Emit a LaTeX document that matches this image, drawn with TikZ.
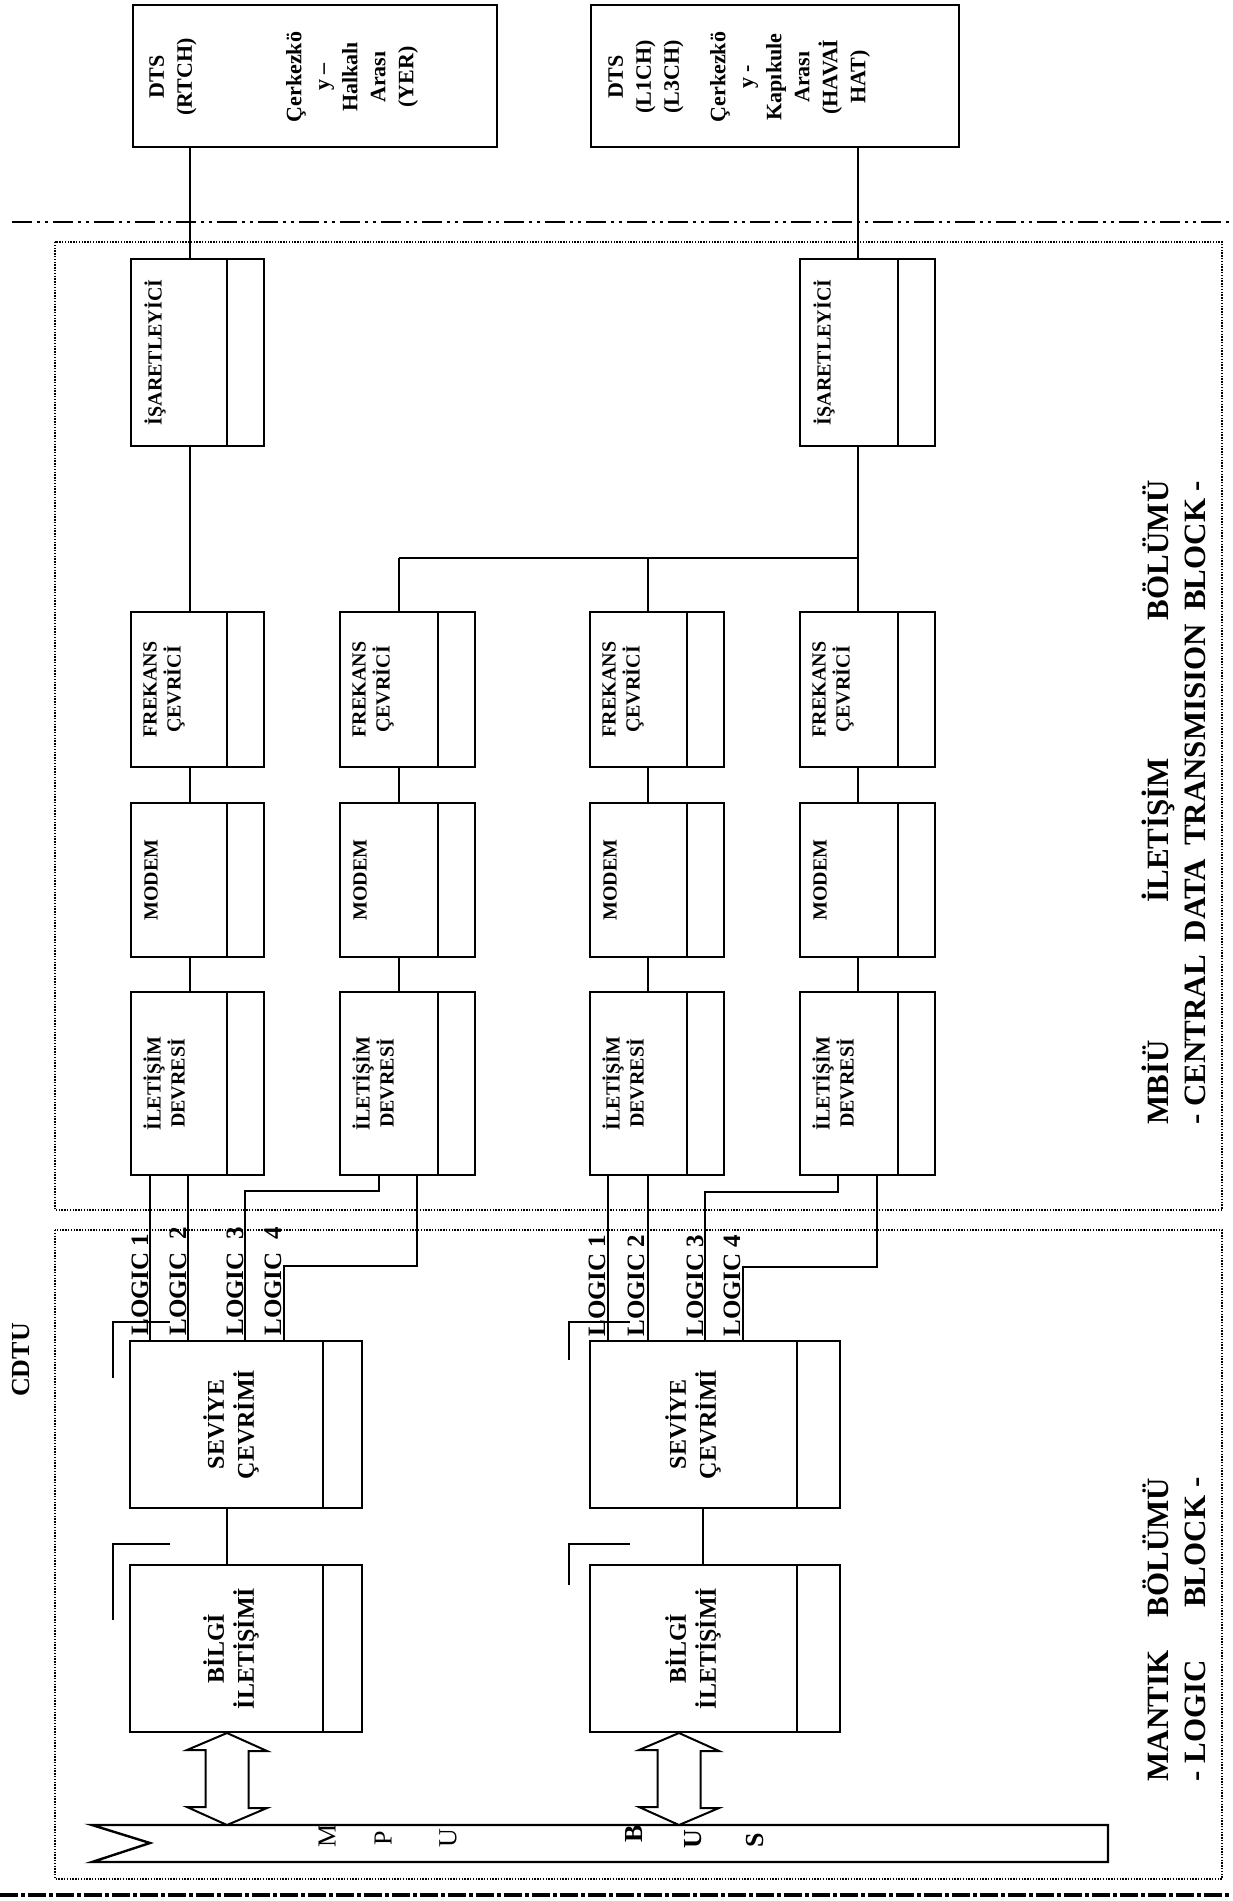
\documentclass[tikz,border=0pt]{standalone}
\usepackage{fontspec}
\setmainfont{Liberation Serif}
\usetikzlibrary{fit,calc}
\tikzset{
  blk/.style={draw, line width=1pt, inner sep=0pt},
  dtsbox/.style={draw, line width=1.3pt, inner sep=0pt},
  conn/.style={line width=0.9pt},
  frm/.style={line width=0.7pt, dash pattern=on 0.7pt off 0.7pt},
  dashdotline/.style={line width=0.9pt, dash pattern=on 10pt off 2.5pt on 1.5pt off 2.5pt on 1.5pt off 2.5pt},
  heavydash/.style={line width=2pt, dash pattern=on 9pt off 1.5pt on 2pt off 1.5pt},
  btext/.style={rotate=90, anchor=north, inner sep=0pt, align=center, font=\bfseries\fontsize{10}{12}\selectfont},
  ltext/.style={rotate=90, inner sep=0pt, align=center, font=\bfseries\fontsize{12}{15}\selectfont},
  dtext/.style={rotate=90, inner sep=0pt, align=center, font=\bfseries\fontsize{11}{14}\selectfont},
  lglab/.style={rotate=90, anchor=base west, inner sep=0pt, font=\bfseries\fontsize{12.5}{15}\selectfont},
  biglab/.style={rotate=90, anchor=base west, inner sep=0pt, font=\bfseries\fontsize{15.5}{19}\selectfont},
  buslet/.style={rotate=90, inner sep=0pt, font=\fontsize{13}{15}\selectfont},
  busletb/.style={rotate=90, inner sep=0pt, font=\bfseries\fontsize{13}{15}\selectfont},
  cornermark/.style={line width=1pt},
  dblarrow/.style={line width=1pt, fill=white, line join=miter},
}
\newcommand\mkblock[6]{%
  \coordinate (#1-a) at (#2,#3);
  \coordinate (#1-b) at (#4,#5);
  \node[blk, fit=(#1-a)(#1-b)] (#1) {};
  \draw[line width=1pt] ([xshift=-#6]#1.north east) -- ([xshift=-#6]#1.south east);
}
\begin{document}
\begin{tikzpicture}[x=0.5pt, y=-0.5pt]
\useasboundingbox (0,0) rectangle (1232,1901);

% ---------- DTS boxes ----------
\coordinate (dA-a) at (133,5); \coordinate (dA-b) at (497,147);
\node[dtsbox, fit=(dA-a)(dA-b)] (dtsA) {};
\coordinate (dB-a) at (591,5); \coordinate (dB-b) at (959,147);
\node[dtsbox, fit=(dB-a)(dB-b)] (dtsB) {};
\node[dtext] (dtsA-t1) at (173,77) {DTS\\(RTCH)};
\node[dtext] (dtsA-t2) at (352,77) {Çerkezkö\\y –\\Halkalı\\Arası\\(YER)};
\node[dtext] (dtsB-t1) at (646,77) {DTS\\(L1CH)\\(L3CH)};
\node[dtext] (dtsB-t2) at (790,77) {Çerkezkö\\y -\\Kapıkule\\Arası\\(HAVAİ\\HAT)};

% ---------- separators and frames ----------
\draw[dashdotline] (12,222) -- (1232,222);
\draw[frm] (55,242) rectangle (1222,1210);
\draw[frm] (55,1230) rectangle (1222,1879);
\draw[heavydash] (0,1895) -- (1232,1895);

% ---------- transmission blocks ----------
\mkblock{isa1}{131}{259}{264}{446}{19pt}
\mkblock{isa4}{800}{259}{935}{446}{19pt}
\mkblock{fr1}{131}{612}{264}{767}{19pt}
\mkblock{fr2}{340}{612}{475}{767}{19pt}
\mkblock{fr3}{590}{612}{724}{767}{19pt}
\mkblock{fr4}{800}{612}{935}{767}{19pt}
\mkblock{mo1}{131}{803}{264}{957}{19pt}
\mkblock{mo2}{340}{803}{475}{957}{19pt}
\mkblock{mo3}{590}{803}{724}{957}{19pt}
\mkblock{mo4}{800}{803}{935}{957}{19pt}
\mkblock{il1}{131}{992}{264}{1175}{19pt}
\mkblock{il2}{340}{992}{475}{1175}{19pt}
\mkblock{il3}{590}{992}{724}{1175}{19pt}
\mkblock{il4}{800}{992}{935}{1175}{19pt}

\node[btext] (isa1-t) at ([xshift=7pt]isa1.west) {İŞARETLEYİCİ};
\node[btext] (isa4-t) at ([xshift=7pt]isa4.west) {İŞARETLEYİCİ};
\foreach \i in {1,2,3,4}{
  \node[btext] (fr\i-t) at ([xshift=6.5pt]fr\i.west) {FREKANS\\ÇEVRİCİ};
  \node[btext] (mo\i-t) at ([xshift=7pt]mo\i.west) {MODEM};
  \node[btext] (il\i-t) at ([xshift=6.5pt]il\i.west) {İLETİŞİM\\DEVRESİ};
}

% ---------- logic blocks ----------
\mkblock{sev1}{130}{1341}{362}{1508}{20pt}
\mkblock{bil1}{130}{1565}{362}{1732}{20pt}
\mkblock{sev2}{590}{1341}{840}{1508}{22pt}
\mkblock{bil2}{590}{1565}{840}{1732}{22pt}
\node[ltext] (sev1-t) at ([xshift=51pt]sev1.center -| sev1.west) {SEVİYE\\ÇEVRİMİ};
\node[ltext] (bil1-t) at ([xshift=51pt]bil1.center -| bil1.west) {BİLGİ\\İLETİŞİMİ};
\node[ltext] (sev2-t) at ([xshift=52pt]sev2.center -| sev2.west) {SEVİYE\\ÇEVRİMİ};
\node[ltext] (bil2-t) at ([xshift=52pt]bil2.center -| bil2.west) {BİLGİ\\İLETİŞİMİ};

% corner marks
\draw[cornermark] (113,1378) -- (113,1322) -- (170,1322);
\draw[cornermark] (113,1620) -- (113,1544) -- (170,1544);
\draw[cornermark] (569,1360) -- (569,1322) -- (630,1322);
\draw[cornermark] (569,1585) -- (569,1544) -- (630,1544);

% ---------- column connectors ----------
\coordinate (x1) at (190,0);
\coordinate (x2) at (399,0);
\coordinate (x3) at (648,0);
\coordinate (x4) at (858,0);
\coordinate (jn) at (0,558);
\draw[conn] (dtsA.south -| x1) -- (isa1.north -| x1);
\draw[conn] (isa1.south -| x1) -- (fr1.north -| x1);
\draw[conn] (dtsB.south -| x4) -- (isa4.north -| x4);
\draw[conn] (isa4.south -| x4) -- (fr4.north -| x4);
\draw[conn] (x2 |- jn) -- (x4 |- jn);
\draw[conn] (x2 |- jn) -- (fr2.north -| x2);
\draw[conn] (x3 |- jn) -- (fr3.north -| x3);
\foreach \i in {1,2,3,4}{
  \draw[conn] (fr\i.south -| x\i) -- (mo\i.north -| x\i);
  \draw[conn] (mo\i.south -| x\i) -- (il\i.north -| x\i);
}

% ---------- LOGIC lines ----------
\coordinate (p11) at (150,0); \coordinate (p12) at (188,0);
\coordinate (k13) at (379,0); \coordinate (k14) at (417,0);
\coordinate (p13) at (245,0); \coordinate (p14) at (284,0);
\coordinate (h3) at (0,1191); \coordinate (h4) at (0,1266);
\draw[conn] (il1.south -| p11) -- (sev1.north -| p11);
\draw[conn] (il1.south -| p12) -- (sev1.north -| p12);
\draw[conn] (il2.south -| k13) -- (k13 |- h3) -- (p13 |- h3) -- (sev1.north -| p13);
\draw[conn] (il2.south -| k14) -- (k14 |- h4) -- (p14 |- h4) -- (sev1.north -| p14);

\coordinate (p21) at (608,0); \coordinate (p22) at (648,0);
\coordinate (k23) at (838,0); \coordinate (k24) at (877,0);
\coordinate (p23) at (705,0); \coordinate (p24) at (743,0);
\coordinate (g3) at (0,1192); \coordinate (g4) at (0,1267);
\draw[conn] (il3.south -| p21) -- (sev2.north -| p21);
\draw[conn] (il3.south -| p22) -- (sev2.north -| p22);
\draw[conn] (il4.south -| k23) -- (k23 |- g3) -- (p23 |- g3) -- (sev2.north -| p23);
\draw[conn] (il4.south -| k24) -- (k24 |- g4) -- (p24 |- g4) -- (sev2.north -| p24);

\node[lglab] (lg11) at (148,1336) {LOGIC 1};
\node[lglab] (lg12) at (186,1336) {LOGIC\ \ 2};
\node[lglab] (lg13) at (243,1336) {LOGIC\ \ 3};
\node[lglab] (lg14) at (281,1336) {LOGIC\ \ 4};
\node[lglab] (lg21) at (605,1337) {LOGIC 1};
\node[lglab] (lg22) at (644,1337) {LOGIC 2};
\node[lglab] (lg23) at (703,1337) {LOGIC 3};
\node[lglab] (lg24) at (740,1337) {LOGIC 4};

% ---------- logic block connectors ----------
\coordinate (ax1) at (227,0);
\coordinate (ax2) at (679,0);
\coordinate (lx2) at (703,0);
\draw[conn] (sev1.south -| ax1) -- (bil1.north -| ax1);
\draw[conn] (sev2.south -| lx2) -- (bil2.north -| lx2);

% ---------- bus ----------
\coordinate (busTL) at (92,1825);
\coordinate (busTR) at (1108,1825);
\coordinate (busBR) at (1108,1862);
\coordinate (busBL) at (92,1862);
\coordinate (busN) at (150,1843);
\draw[line width=1.2pt, line join=miter] (busTL) -- (busTR) -- (busBR) -- (busBL) -- (busN) -- cycle;

\node[buslet] (bM) at (327,1836) {M};
\node[buslet] (bP) at (383,1838) {P};
\node[buslet] (bU1) at (448,1838) {U};
\node[busletb] (bB) at (634,1834) {B};
\node[busletb] (bU2) at (693,1839) {U};
\node[busletb] (bS) at (755,1840) {S};

% ---------- double arrows ----------
\foreach \k/\b in {1/bil1, 2/bil2}{
  \coordinate (a\k t) at (\b.south -| ax\k);
  \coordinate (a\k b) at (busTL -| ax\k);
  \draw[dblarrow] (a\k t) -- ++(40,18) -- ++(-18.5,0) -- ++(0,57) -- ++(18.5,0)
     -- (a\k b) -- ++(-40,-18) -- ++(18.5,0) -- ++(0,-57) -- ++(-18.5,0) -- cycle;
}

% ---------- section labels ----------
\node[rotate=90, inner sep=0pt, font=\bfseries\fontsize{13}{15}\selectfont] (cdtu) at (21,1360) {CDTU};
\node[biglab] (mb1) at (1168,1125) {\hbox to 322pt{MBİÜ\hfil İLETİŞİM\hfil BÖLÜMÜ}};
\node[biglab] (mb2) at (1205,1125) {\hbox to 322pt{- CENTRAL\hfill\ DATA\hfill\ TRANSMISION\hfill\ BLOCK -}};
\node[biglab] (mn1) at (1168,1782) {\hbox to 152pt{MANTIK\hfil BÖLÜMÜ}};
\node[biglab] (mn2) at (1205,1782) {\hbox to 152pt{- LOGIC\hfil BLOCK -}};
\end{tikzpicture}
\end{document}
